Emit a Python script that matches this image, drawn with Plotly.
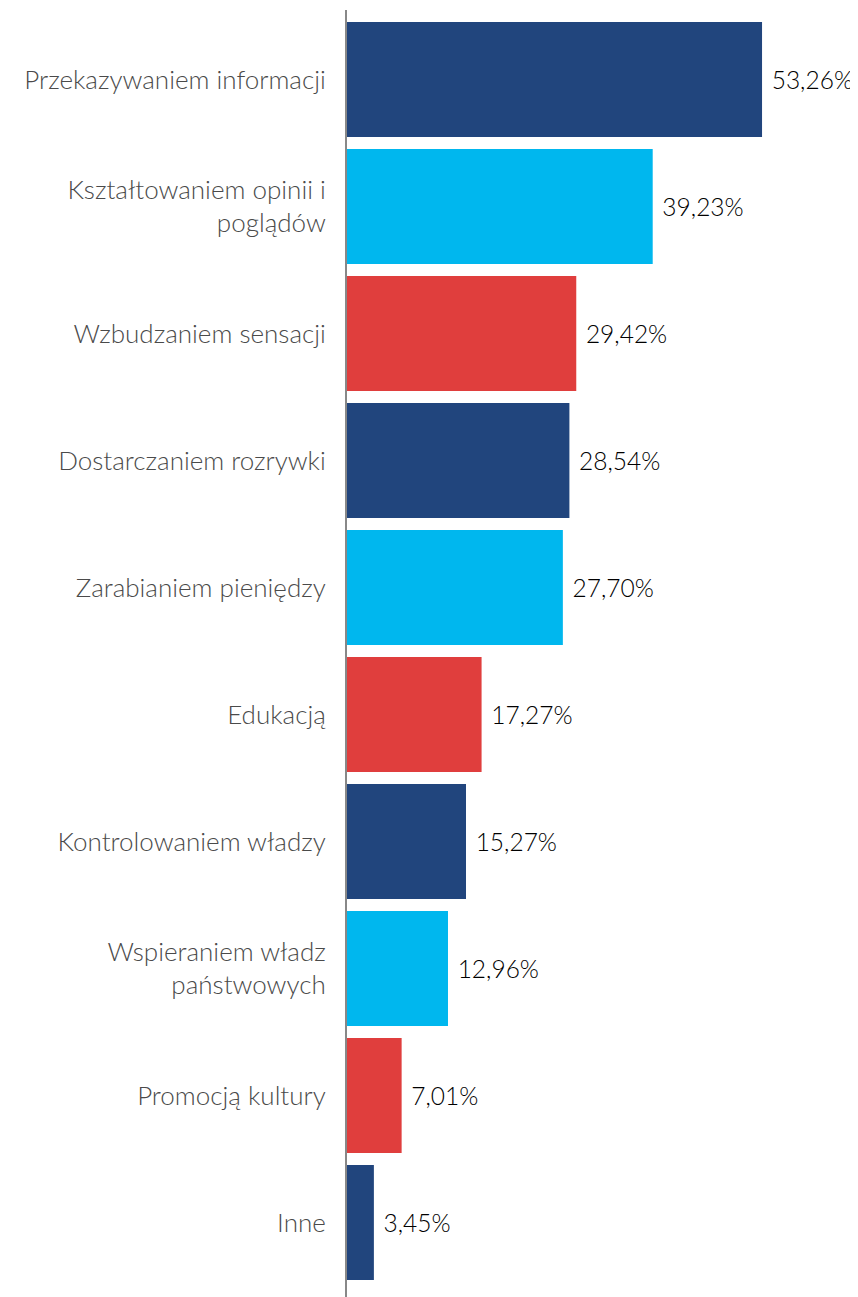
import plotly.graph_objects as go

# kategorie i wartości (w %)
categories = [
    "Przekazywaniem informacji",
    "Kształtowaniem opinii i<br>poglądów",
    "Wzbudzaniem sensacji",
    "Dostarczaniem rozrywki",
    "Zarabianiem pieniędzy",
    "Edukacją",
    "Kontrolowaniem władzy",
    "Wspieraniem władz<br>państwowych",
    "Promocją kultury",
    "Inne",
]
values = [53.26, 39.23, 29.42, 28.54, 27.70, 17.27, 15.27, 12.96, 7.01, 3.45]
value_labels = ["53,26%", "39,23%", "29,42%", "28,54%", "27,70%",
                "17,27%", "15,27%", "12,96%", "7,01%", "3,45%"]

NAVY = "#21457D"
CYAN = "#00B7EE"
RED = "#E03E3D"
colors = [NAVY, CYAN, RED] * 3 + [NAVY]

fig = go.Figure(
    go.Bar(
        x=values,
        y=categories,
        orientation="h",
        marker=dict(color=colors, line=dict(width=0)),
        text=[" " + t for t in value_labels],
        textposition="outside",
        cliponaxis=False,
        textfont=dict(color="#000000", size=24.5, family="Lato", weight=300),
    )
)

# strona ma 8px marginesu body, więc marginesy wykresu są o tyle mniejsze
fig.update_layout(
    width=858,
    height=1297,
    margin=dict(t=2, b=0, l=339, r=0, autoexpand=False),
    paper_bgcolor="white",
    plot_bgcolor="white",
    font=dict(family="Lato", size=26, color="#4d4d4d"),
    bargap=0.094,
    showlegend=False,
)
fig.update_xaxes(range=[0, 66.6], visible=False, automargin=False)
fig.update_yaxes(
    range=[9.65, -0.547],
    automargin=False,
    showline=True,
    linecolor="#888888",
    linewidth=2,
    ticks="outside",
    ticklen=14,
    tickcolor="white",
    showgrid=False,
    tickfont=dict(size=26, color="#4a4a4a", family="Lato", weight=300),
)

fig.write_html("out.html")
